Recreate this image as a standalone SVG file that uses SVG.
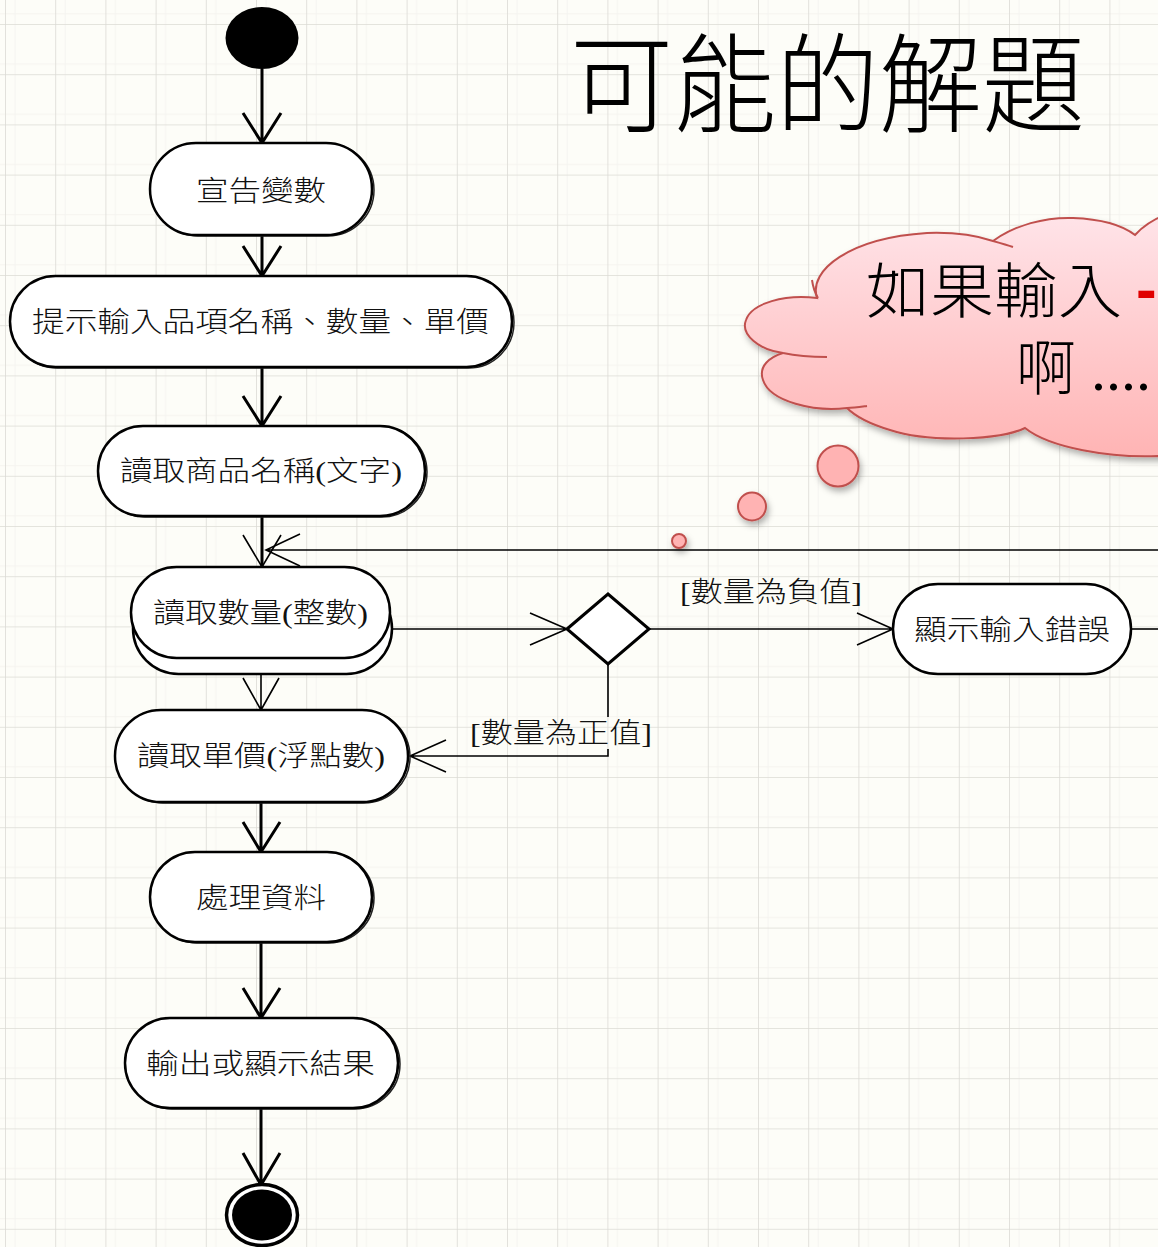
<svg xmlns="http://www.w3.org/2000/svg" width="1158" height="1247" viewBox="0 0 1158 1247">
<style>
.node{fill:#fff;stroke:#000;stroke-width:2.5}
.shadow{fill:none;stroke:#222;stroke-width:1.5}
.t{font-family:"Liberation Serif","Noto Sans CJK TC",serif;font-size:28px;font-weight:300;fill:#111}
.thick{fill:none;stroke:#000;stroke-width:3}
.thin{fill:none;stroke:#000;stroke-width:1.6}
.cloudline{fill:none;stroke:#c0504d;stroke-width:2}
</style>
<defs>
<pattern id="grid" x="5" y="24" width="50.2" height="50.2" patternUnits="userSpaceOnUse">
<path d="M10 0V50.2M0 40H50.2" stroke="#f5f4f0" stroke-width="1" fill="none"/>
<path d="M0 0V50.2M0 0H50.2" stroke="#dcdbd5" stroke-width="1.6" fill="none"/>
</pattern>
<linearGradient id="pink" x1="0" y1="0" x2="0" y2="1">
<stop offset="0" stop-color="#ffe4e9"/>
<stop offset="1" stop-color="#ffb4b4"/>
</linearGradient>
<filter id="ds" x="-20%" y="-20%" width="140%" height="150%">
<feDropShadow dx="2" dy="4" stdDeviation="3" flood-color="#000" flood-opacity="0.3"/>
</filter>
</defs>
<rect width="1158" height="1247" fill="#fdfdf8"/>
<rect width="1158" height="1247" fill="url(#grid)"/>

<g id="title">
<text x="570" y="124" font-family="Liberation Serif,'Noto Sans CJK TC',serif" font-size="108" font-weight="300" textLength="515" lengthAdjust="spacingAndGlyphs" fill="#000">可能的解題</text>
</g>

<g id="cloud">
<g filter="url(#ds)">
<path d="M817,298 C808,270 850,238 927,233 C955,232 978,236 993,241 C1015,225 1045,217 1073,218 C1100,219 1122,225 1135,235 C1143,226 1153,219 1170,213 L1170,457 L1158,456 C1110,458 1050,448 1025,428 C1000,440 930,443 890,430 C870,424 855,416 847,408 C815,412 770,402 763,380 C758,366 770,357 783,353 C760,350 740,335 746,320 C752,303 785,294 817,298 Z" fill="url(#pink)" stroke="#c0504d" stroke-width="2"/>
<circle cx="838" cy="466" r="20.5" fill="#ffb3b3" stroke="#c0504d" stroke-width="2"/>
<circle cx="752" cy="506.5" r="14" fill="#ffb3b3" stroke="#c0504d" stroke-width="2"/>
<circle cx="679" cy="541" r="7" fill="#ffb3b3" stroke="#c0504d" stroke-width="2"/>
</g>
<path class="cloudline" d="M993,241 C1000,243 1007,245 1013,247"/>
<path class="cloudline" d="M783,353 C797,356 812,357 827,357"/>
<path class="cloudline" d="M847,408 C854,408 860,407 867,406"/>
<path class="cloudline" d="M812,280 C813,287 815,293 818,298"/>
<text x="866" y="313" font-family="Liberation Serif,'Noto Sans CJK TC',serif" font-size="60" font-weight="300" textLength="256" lengthAdjust="spacingAndGlyphs" fill="#000">如果輸入</text>
<text x="1136" y="310" font-family="Liberation Sans,sans-serif" font-size="62" font-weight="bold" fill="#e00000">-</text>
<text x="1016" y="390" font-family="Liberation Serif,'Noto Sans CJK TC',serif" font-size="60" font-weight="300" fill="#000">啊 ....</text>
</g>

<g id="connectors">
<path class="thick" d="M262,69V143M243,113L262,143L281,113"/>
<path class="thick" d="M262,235V276M243,246L262,276L281,246"/>
<path class="thick" d="M262,367V426M243,396L262,426L281,396"/>
<path class="thick" d="M262,516V567"/>
<path class="thin" d="M243,535L262,567L281,535"/>
<path class="thin" d="M1158,550H266M300,534L266,550L300,566"/>
<path class="thin" d="M261,658V710M243,678L261,710L279,678"/>
<path class="thin" d="M392,629H567M530,613L567,629L530,645"/>
<path class="thin" d="M649,629H893M857,613L893,629L857,645"/>
<path class="thin" d="M1131,629H1158"/>
<path class="thin" d="M608,664V717M608,749V756H410M446,740L410,756L446,772"/>
<path class="thick" d="M261,802V852M243,822L261,852L280,822"/>
<path class="thick" d="M261,942V1018M243,988L261,1018L280,988"/>
<path class="thick" d="M261,1108V1185M243,1153L261,1185L280,1153"/>
<text class="t" x="680" y="602" textLength="182" lengthAdjust="spacingAndGlyphs">[數量為負值]</text>
<text class="t" x="470" y="743" textLength="182" lengthAdjust="spacingAndGlyphs">[數量為正值]</text>
</g>

<g id="start">
<ellipse cx="262" cy="38" rx="36.5" ry="31" fill="#000"/>
</g>

<g id="n1">
<rect class="shadow" x="152" y="144" width="222" height="92" rx="46"/>
<rect class="node" x="150" y="143" width="222" height="92" rx="46"/>
<text class="t" x="196" y="201" textLength="130" lengthAdjust="spacingAndGlyphs">宣告變數</text>
</g>

<g id="n2">
<rect class="shadow" x="12" y="277" width="502" height="91" rx="45.5"/>
<rect class="node" x="10" y="276" width="502" height="91" rx="45.5"/>
<text class="t" x="32" y="332" textLength="457" lengthAdjust="spacingAndGlyphs">提示輸入品項名稱、數量、單價</text>
</g>

<g id="n3">
<rect class="shadow" x="100" y="427" width="327" height="90" rx="45"/>
<rect class="node" x="98" y="426" width="327" height="90" rx="45"/>
<text class="t" x="120" y="481" textLength="282" lengthAdjust="spacingAndGlyphs">讀取商品名稱(文字)</text>
</g>

<g id="n4">
<rect class="node" x="133" y="583" width="259" height="91" rx="45.5"/>
<rect class="node" x="131" y="567" width="259" height="91" rx="45.5"/>
<text class="t" x="153" y="623" textLength="215" lengthAdjust="spacingAndGlyphs">讀取數量(整數)</text>
</g>

<g id="decision">
<polygon points="567,629 608,594 649,629 608,664" fill="#fff" stroke="#000" stroke-width="3"/>
</g>

<g id="n5">
<rect class="shadow" x="117" y="711" width="293" height="92" rx="46"/>
<rect class="node" x="115" y="710" width="293" height="92" rx="46"/>
<text class="t" x="137" y="766" textLength="248" lengthAdjust="spacingAndGlyphs">讀取單價(浮點數)</text>
</g>

<g id="n6">
<rect class="shadow" x="152" y="853" width="222" height="90" rx="45"/>
<rect class="node" x="150" y="852" width="222" height="90" rx="45"/>
<text class="t" x="196" y="908" textLength="130" lengthAdjust="spacingAndGlyphs">處理資料</text>
</g>

<g id="n7">
<rect class="shadow" x="127" y="1019" width="273" height="90" rx="45"/>
<rect class="node" x="125" y="1018" width="273" height="90" rx="45"/>
<text class="t" x="146" y="1074" textLength="229" lengthAdjust="spacingAndGlyphs">輸出或顯示結果</text>
</g>

<g id="n8">
<rect class="node" x="893" y="584" width="238" height="90" rx="45"/>
<text class="t" x="914" y="640" textLength="196" lengthAdjust="spacingAndGlyphs">顯示輸入錯誤</text>
</g>

<g id="end">
<ellipse cx="262" cy="1215" rx="35.5" ry="30.5" fill="#fff" stroke="#000" stroke-width="3.5"/>
<ellipse cx="262" cy="1215" rx="30" ry="25.5" fill="#000"/>
</g>
</svg>
